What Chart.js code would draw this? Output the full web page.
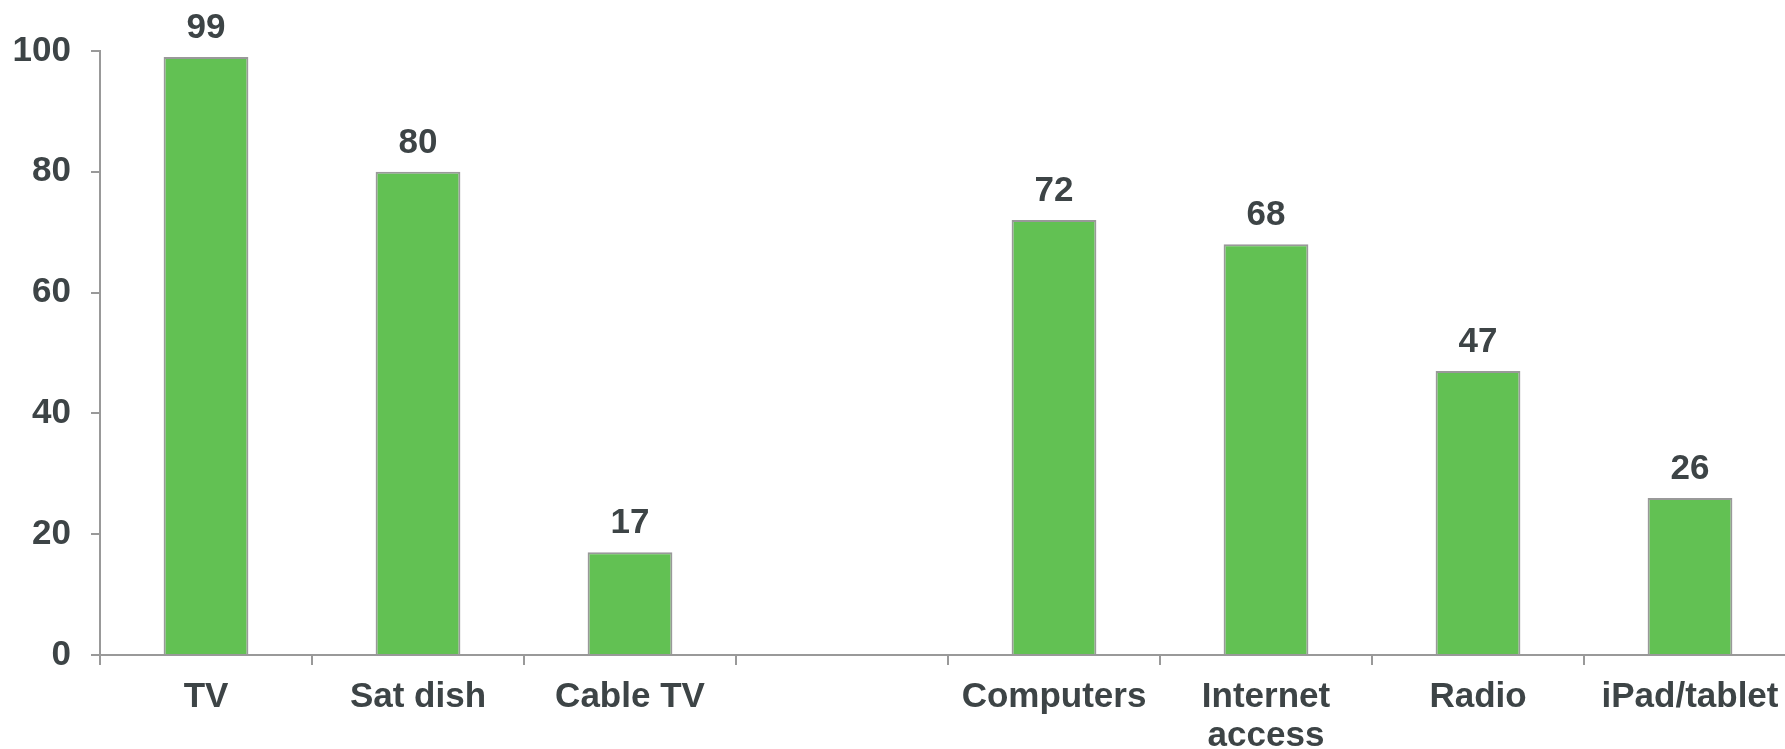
<!DOCTYPE html>
<html>
<head>
<meta charset="utf-8">
<script src="https://cdn.jsdelivr.net/npm/chart.js@4"></script>
<style>
    html, body { margin: 0; padding: 0; background: #fff; overflow: hidden; }
    #wrap { width: 1785px; height: 749px; overflow: hidden; }
</style>
</head>
<body>
<div id="wrap">
    <canvas id="deviceChart" width="1800" height="749"></canvas>
</div>
<script>
// Chart values
const categories = ['TV', 'Sat dish', 'Cable TV', '', 'Computers', ['Internet', 'access'], 'Radio', 'iPad/tablet'];
const ownership = [99, 80, 17, null, 72, 68, 47, 26];
const yTicks = [0, 20, 40, 60, 80, 100];

const textColor = '#3d4446';
const axisColor = '#999999';
const fontFamily = '"Liberation Sans", Arial, sans-serif';

// Draws the number above each bar
const barValueLabels = {
    id: 'barValueLabels',
    afterDatasetsDraw(chart) {
        const ctx = chart.ctx;
        const meta = chart.getDatasetMeta(0);
        ctx.save();
        ctx.fillStyle = textColor;
        ctx.font = 'bold 35px ' + fontFamily;
        ctx.textAlign = 'center';
        ctx.textBaseline = 'alphabetic';
        meta.data.forEach((bar, i) => {
            const value = ownership[i];
            if (value === null) return;
            ctx.fillText(value, bar.x, bar.y - 19);
        });
        ctx.restore();
    }
};

const ctx = document.getElementById('deviceChart').getContext('2d');
new Chart(ctx, {
    type: 'bar',
    data: {
        labels: categories,
        datasets: [{
            data: ownership,
            backgroundColor: '#62c153',
            borderColor: '#999999',
            borderWidth: 2,
            barPercentage: 0.4,
            categoryPercentage: 1.0
        }]
    },
    options: {
        responsive: false,
        animation: false,
        layout: {
            padding: { top: 51, left: 14, right: 4, bottom: 0 }
        },
        plugins: {
            legend: { display: false },
            tooltip: { enabled: false }
        },
        scales: {
            x: {
                afterFit(axis) {
                    axis.height = 94;
                },
                grid: {
                    display: true,
                    offset: true,
                    drawOnChartArea: false,
                    drawTicks: true,
                    tickLength: 10,
                    color: axisColor,
                    lineWidth: 2
                },
                border: { display: true, color: axisColor, width: 2 },
                ticks: {
                    color: textColor,
                    padding: 13,
                    maxRotation: 0,
                    autoSkip: false,
                    font: { family: fontFamily, size: 35, weight: 'bold', lineHeight: 1.12 }
                }
            },
            y: {
                min: 0,
                max: 100,
                afterBuildTicks(axis) {
                    axis.ticks = yTicks.map(v => ({ value: v }));
                },
                afterFit(axis) {
                    axis.width = 86;
                },
                grid: {
                    display: true,
                    drawOnChartArea: false,
                    drawTicks: true,
                    tickLength: 9,
                    color: axisColor,
                    lineWidth: 2
                },
                border: { display: true, color: axisColor, width: 2 },
                ticks: {
                    color: textColor,
                    padding: 20,
                    font: { family: fontFamily, size: 35, weight: 'bold' }
                }
            }
        }
    },
    plugins: [barValueLabels]
});
</script>
</body>
</html>
